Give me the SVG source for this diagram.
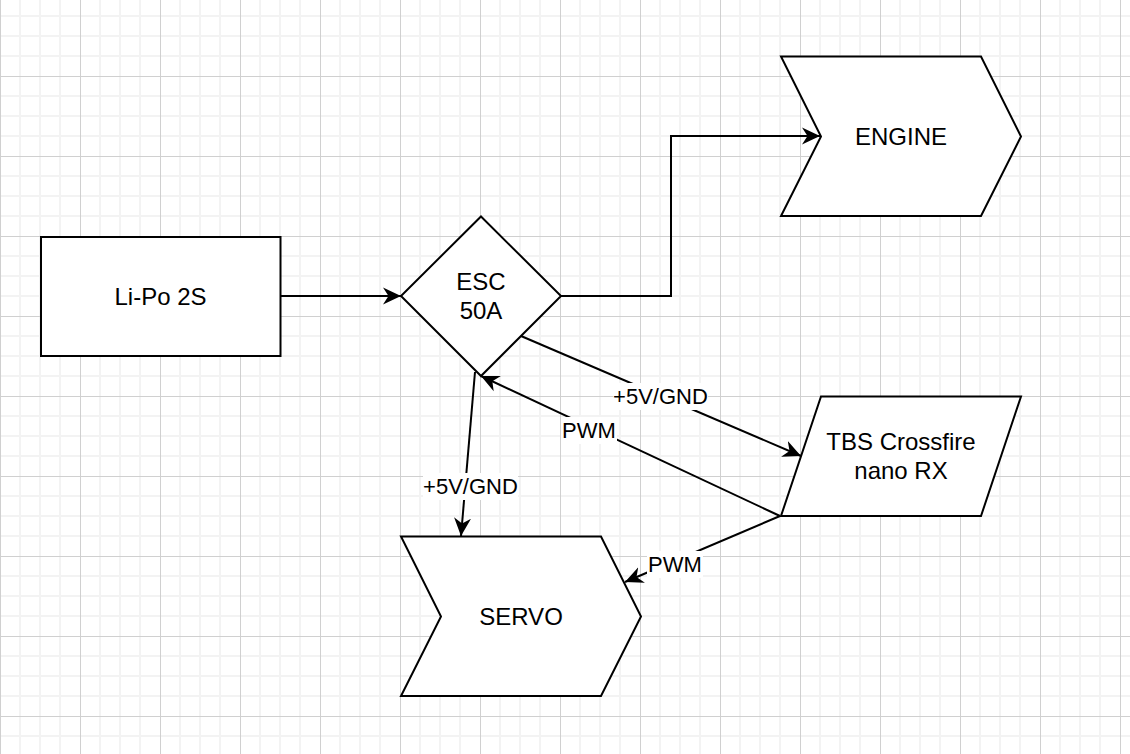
<svg xmlns="http://www.w3.org/2000/svg" width="1130" height="754" viewBox="0 0 1130 754">
<style>
.shape{fill:#ffffff;stroke:#000000;stroke-width:2}
.edge{fill:none;stroke:#000000;stroke-width:2}
.lbl{font-family:"Liberation Sans",Arial,sans-serif;font-size:24px;fill:#000000;text-anchor:middle}
.elbl{font-family:"Liberation Sans",Arial,sans-serif;font-size:22px;fill:#000000;text-anchor:middle}
.bg{fill:#ffffff;stroke:none}
</style>
<defs>
<pattern id="grid" x="0" y="-4" width="80" height="80" patternUnits="userSpaceOnUse">
<rect x="0" y="0" width="80" height="80" fill="#ffffff"/>
<rect x="19" y="0" width="2" height="80" fill="#f3f3f3"/>
<rect x="39" y="0" width="2" height="80" fill="#f3f3f3"/>
<rect x="59" y="0" width="2" height="80" fill="#f3f3f3"/>
<rect x="0" y="19" width="80" height="2" fill="#f3f3f3"/>
<rect x="0" y="39" width="80" height="2" fill="#f3f3f3"/>
<rect x="0" y="59" width="80" height="2" fill="#f3f3f3"/>
<rect x="0" y="0" width="1" height="80" fill="#d0d0d0"/>
<rect x="0" y="0" width="80" height="1" fill="#d0d0d0"/>
</pattern>
<marker id="arrow" markerUnits="userSpaceOnUse" markerWidth="20" markerHeight="18" refX="18" refY="9" orient="auto">
<path d="M18,9 L0,0.5 L5.5,9 L0,17.5 Z" fill="#000000"/>
</marker>
</defs>
<rect x="0" y="0" width="1130" height="754" fill="url(#grid)"/>

<g id="connectors">
<line class="edge" x1="281" y1="296" x2="401" y2="296" marker-end="url(#arrow)"/>
<polyline class="edge" points="561,296 671,296 671,136 820,136" marker-end="url(#arrow)"/>
<line class="edge" x1="521" y1="336" x2="801" y2="456" marker-end="url(#arrow)"/>
<line class="edge" x1="780" y1="516" x2="481" y2="376" marker-end="url(#arrow)"/>
<line class="edge" x1="475" y1="372" x2="461" y2="536" marker-end="url(#arrow)"/>
<line class="edge" x1="780" y1="516" x2="625" y2="582" marker-end="url(#arrow)"/>
<g id="edge-labels">
<rect class="bg" x="613" y="383" width="95" height="27"/>
<text class="elbl" x="660.5" y="403.5">+5V/GND</text>
<rect class="bg" x="561" y="417" width="56" height="27"/>
<text class="elbl" x="589" y="437.5">PWM</text>
<rect class="bg" x="423" y="473" width="95" height="27"/>
<text class="elbl" x="470.5" y="493.5">+5V/GND</text>
<rect class="bg" x="647" y="551" width="56" height="27"/>
<text class="elbl" x="675" y="571.5">PWM</text>
</g>
</g>

<g id="lipo">
<rect class="shape" x="41" y="237" width="239.5" height="119"/>
<text class="lbl" x="160.5" y="304.5">Li-Po 2S</text>
</g>

<g id="esc">
<polygon class="shape" points="481,216.5 561,296 481,376 401,296"/>
<text class="lbl" x="481" y="290">ESC</text>
<text class="lbl" x="481" y="319">50A</text>
</g>

<g id="engine">
<polygon class="shape" points="781,56.5 981,56.5 1021,136.5 981,216 781,216 821,136.5"/>
<text class="lbl" x="901" y="145">ENGINE</text>
</g>

<g id="tbs">
<polygon class="shape" points="821,396.5 1021,396.5 981,516 781,516"/>
<text class="lbl" x="901" y="450">TBS Crossfire</text>
<text class="lbl" x="901" y="479">nano RX</text>
</g>

<g id="servo">
<polygon class="shape" points="401,536.5 601,536.5 641,616.5 601,696 401,696 441,616.5"/>
<text class="lbl" x="521" y="624.5">SERVO</text>
</g>
</svg>
